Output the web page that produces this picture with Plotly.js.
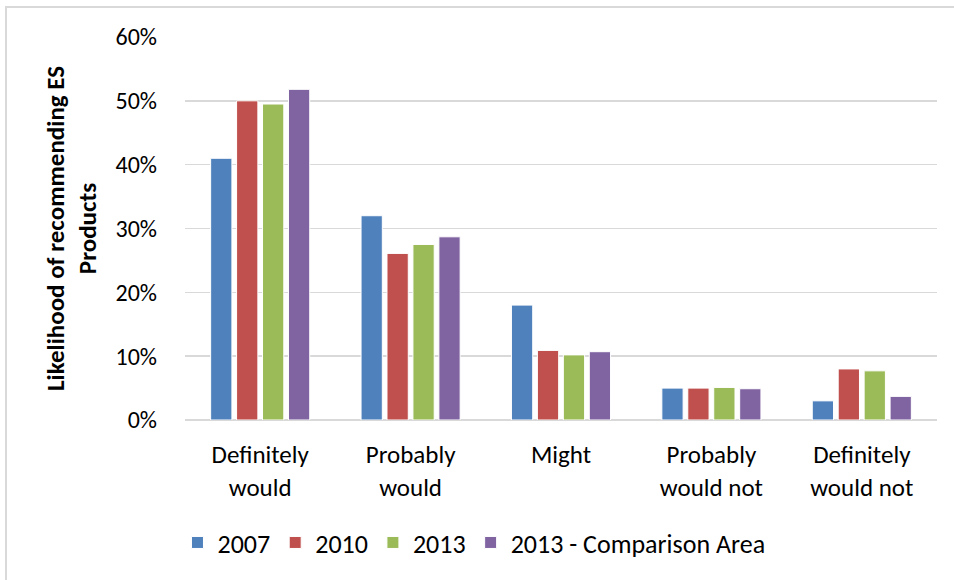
<!DOCTYPE html>
<html>
<head>
<meta charset="utf-8">
<script src="https://cdn.plot.ly/plotly-3.0.1.min.js"></script>
<style>
html,body{margin:0;padding:0;background:#fff;overflow:hidden;}
#frame{position:absolute;left:5px;top:6px;width:2000px;height:2000px;border:2px solid #d9d9d9;box-sizing:border-box;}
#chart{position:absolute;left:0;top:0;width:954px;height:580px;}
</style>
</head>
<body>
<div id="frame"></div>
<div id="chart"></div>
<script>
const categories = ["Definitely<br>would", "Probably<br>would", "Might", "Probably<br>would not", "Definitely<br>would not"];
const seriesNames = ["2007", "2010", "2013", "2013 - Comparison Area"];
const v2007 = [0.410, 0.320, 0.180, 0.050, 0.030];
const v2010 = [0.500, 0.261, 0.109, 0.050, 0.080];
const v2013 = [0.495, 0.275, 0.102, 0.051, 0.077];
const vComp = [0.518, 0.287, 0.107, 0.049, 0.037];
const yTicks = [0, 0.1, 0.2, 0.3, 0.4, 0.5, 0.6];
const colors = ["#4F81BD", "#C0504D", "#9BBB59", "#8064A2"];

const values = [v2007, v2010, v2013, vComp];
const traces = values.map((vals, i) => ({
  type: "bar",
  name: seriesNames[i],
  x: categories,
  y: vals,
  marker: {color: colors[i], line: {color: "#ffffff", width: 1}},
  hoverinfo: "x+y+name"
}));

const FAM = "Carlito, Calibri, Lato, sans-serif";
const font = {family: FAM, size: 25, color: "#000"};
const legendFont = {family: FAM, size: 26, color: "#000"};
const tickFontY = {family: FAM, size: 24, color: "#000"};

const layout = {
  width: 954,
  height: 580,
  paper_bgcolor: "rgba(0,0,0,0)",
  plot_bgcolor: "rgba(0,0,0,0)",
  margin: {l: 185, r: 17, t: 37, b: 160},
  font: font,
  barmode: "group",
  bargap: 0.31,
  bargroupgap: 0.18,
  showlegend: true,
  legend: {
    orientation: "h",
    x: -0.01, xanchor: "left",
    y: -0.32, yanchor: "middle",
    font: legendFont,
    itemwidth: 30,
    traceorder: "normal"
  },
  xaxis: {
    type: "category",
    showgrid: false,
    showline: false,
    ticks: "",
    ticklabelstandoff: 17,
    tickfont: font,
    zeroline: false
  },
  yaxis: {
    range: [0, 0.6],
    tickvals: yTicks,
    tickformat: ".0%",
    showgrid: true,
    gridcolor: "#d9d9d9",
    gridwidth: 1.5,
    zeroline: true,
    zerolinecolor: "#d9d9d9",
    zerolinewidth: 1.5,
    showline: false,
    ticks: "",
    ticklabelstandoff: 27,
    tickfont: tickFontY,
    title: {
      text: "<b>Likelihood of recommending ES<br>Products</b>",
      font: {family: FAM, size: 25, color: "#000"},
      standoff: 11
    },
    automargin: false
  }
};

Plotly.newPlot("chart", traces, layout, {displayModeBar: false, staticPlot: true});
</script>
</body>
</html>
